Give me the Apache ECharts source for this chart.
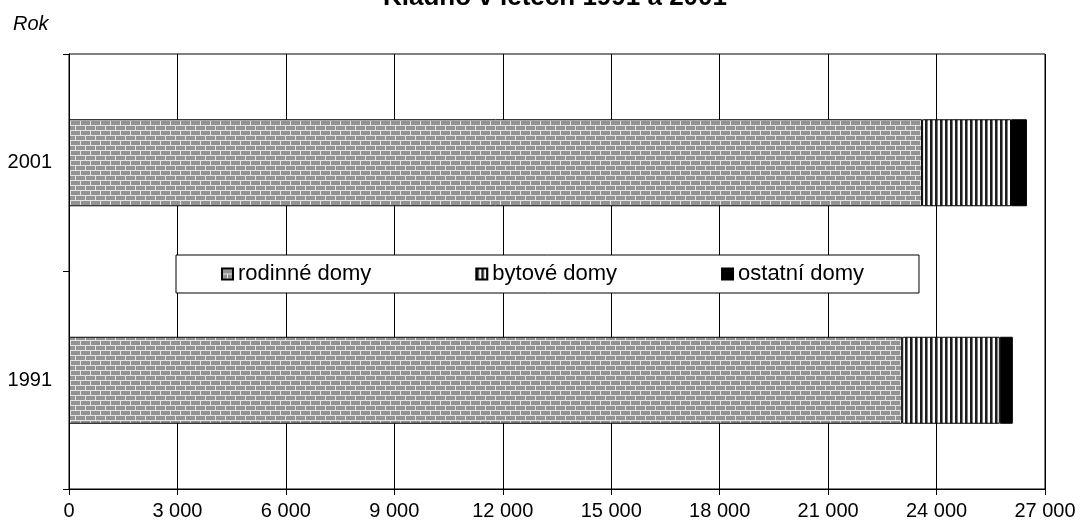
<!DOCTYPE html>
<html>
<head>
<meta charset="utf-8">
<script src="https://cdn.jsdelivr.net/npm/echarts@6/dist/echarts.min.js"></script>
<style>
html, body { margin: 0; padding: 0; background: #fff; }
#chart { width: 1084px; height: 528px; }
</style>
</head>
<body>
<div id="chart"></div>
<script>
// data
var years = ['1991', '2001'];
var rodinne = [23050, 23600];
var bytove = [2700, 2460];
var ostatni = [360, 440];
var seriesNames = ['rodinné domy', 'bytové domy', 'ostatní domy'];
var xMin = 0, xMax = 27000, xStep = 3000;

var FONT = '"Liberation Sans", Arial, sans-serif';

// brick fill (rodinné domy)
function brickPattern() {
	var c = document.createElement('canvas');
	c.width = 10; c.height = 10;
	var g = c.getContext('2d');
	g.fillStyle = '#e4e4e4';
	g.fillRect(0, 0, 10, 10);
	g.fillStyle = '#939393';
	g.fillRect(1, 1, 9, 4);
	g.fillRect(0, 6, 5, 4);
	g.fillRect(6, 6, 4, 4);
	return c;
}
// vertical stripes (bytové domy)
function stripePattern() {
	var c = document.createElement('canvas');
	c.width = 5; c.height = 4;
	var g = c.getContext('2d');
	g.fillStyle = '#ffffff';
	g.fillRect(0, 0, 5, 4);
	g.fillStyle = '#1e1e1e';
	g.fillRect(0, 0, 2, 4);
	g.fillStyle = '#808080';
	g.fillRect(2, 0, 1, 4);
	return c;
}

function fmt(v) {
	return String(v).replace(/\B(?=(\d{3})+(?!\d))/g, ' ');
}

var myChart = echarts.init(document.getElementById('chart'), null, {renderer: 'canvas'});

var barStyle = function(color) {
	return {color: color, borderColor: '#000', borderWidth: 1};
};

myChart.setOption({
	animation: false,
	backgroundColor: '#fff',
	textStyle: {fontFamily: FONT},
	grid: {
		left: 69, right: 39, top: 54, bottom: 39,
		show: true, borderColor: '#000', borderWidth: 1,
		containLabel: false
	},
	legend: {
		data: seriesNames,
		left: 176, top: 255,
		orient: 'horizontal',
		icon: 'rect',
		itemWidth: 11, itemHeight: 11,
		itemGap: 104,
		padding: [8, 55, 8, 45],
		backgroundColor: '#fff',
		borderColor: '#000',
		borderWidth: 1,
		borderRadius: 0,
		textStyle: {fontFamily: FONT, fontSize: 22, color: '#000'},
		selectedMode: false
	},
	xAxis: {
		type: 'value',
		min: xMin, max: xMax, interval: xStep,
		axisLine: {show: true, lineStyle: {color: '#000', width: 1}},
		axisTick: {show: true, length: 6, lineStyle: {color: '#000'}},
		axisLabel: {
			fontFamily: FONT, fontSize: 20, color: '#000', margin: 12,
			formatter: function(v) { return fmt(v); }
		},
		splitLine: {show: true, lineStyle: {color: '#000', width: 1}}
	},
	yAxis: {
		type: 'category',
		data: years,
		axisLine: {show: true, lineStyle: {color: '#000', width: 1}},
		axisTick: {show: true, length: 6, lineStyle: {color: '#000'}},
		axisLabel: {fontFamily: FONT, fontSize: 20, color: '#000', margin: 17},
		splitLine: {show: false}
	},
	series: [
		{name: seriesNames[0], type: 'bar', stack: 'domy', data: rodinne, barCategoryGap: '60%',
			itemStyle: barStyle({image: brickPattern(), repeat: 'repeat'})},
		{name: seriesNames[1], type: 'bar', stack: 'domy', data: bytove,
			itemStyle: barStyle({image: stripePattern(), repeat: 'repeat'})},
		{name: seriesNames[2], type: 'bar', stack: 'domy', data: ostatni,
			itemStyle: barStyle('#000')}
	],
	graphic: [
		{type: 'text', left: 13, top: 14,
			style: {text: 'Rok', fontFamily: FONT, fontSize: 20, fontStyle: 'italic', fill: '#000'}},
		{type: 'text', x: 555, y: 11,
			style: {text: 'Kladno v letech 1991 a 2001', fontFamily: FONT, fontSize: 26, fontWeight: 'bold',
				fill: '#000', align: 'center', verticalAlign: 'bottom'}}
	]
});
</script>
</body>
</html>
